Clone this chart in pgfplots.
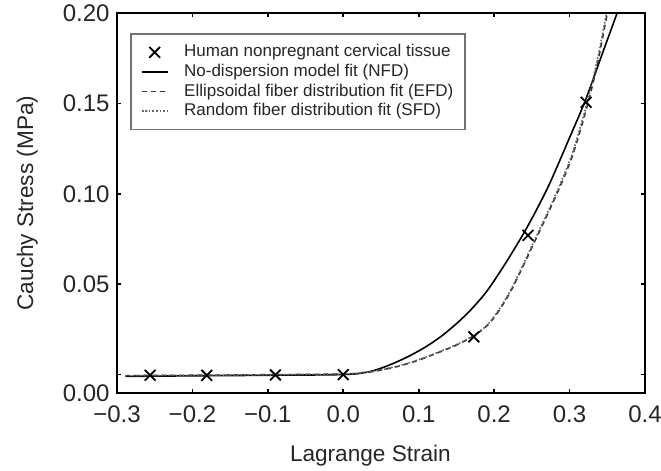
\documentclass[border=0pt]{standalone}
\usepackage{fontspec}
\setmainfont{Liberation Sans}
\usepackage{pgfplots}
\pgfplotsset{compat=1.18}
\usetikzlibrary{calc}

\pgfplotsset{
  shortlegend/.style={
    legend image code/.code={
      \draw[mark repeat=2,mark phase=2,##1] plot coordinates {(0cm,0cm) (0.23cm,0cm) (0.46cm,0cm)};
    }
  }
}

\begin{document}
\begin{tikzpicture}
\begin{axis}[
  name=ax,
  scale only axis,
  width=264pt, height=190pt,
  xmin=-0.3, xmax=0.4,
  ymin=-0.0102, ymax=0.2,
  xtick={-0.3,-0.2,-0.1,0,0.1,0.2,0.3,0.4},
  xticklabels={−0.3,−0.2,−0.1,0.0,0.1,0.2,0.3,0.4},
  ytick={0,0.05,0.1,0.15,0.2},
  yticklabels={,0.05,0.10,0.15,0.20},
  extra y ticks={-0.0102},
  extra y tick labels={0.00},
  extra y tick style={major tick length=0pt},
  tick align=inside,
  major tick length=2.2pt,
  axis line style={line width=1pt},
  tick style={line width=0.8pt, black},
  ticklabel style={font=\fontsize{12}{14}\selectfont, text=black!85},
  xticklabel style={inner sep=1.5pt, yshift=-4.5pt},
  yticklabel style={inner sep=1.5pt, xshift=-2pt},
  label style={font=\fontsize{11.3}{13}\selectfont, text=black!85},
  xlabel={Lagrange Strain},
  ylabel={Cauchy Stress (MPa)},
  xlabel style={at={(axis description cs:0.48,-0.165)}, anchor=center},
  ylabel style={at={(axis description cs:-0.17,0.5)}, anchor=center},
  legend style={
    at={(axis description cs:0.0246,0.947)}, anchor=north west,
    draw=black!55, line width=0.8pt,
    font=\fontsize{8.5}{10}\selectfont, text=black!85,
    inner xsep=5pt, inner ysep=4.3pt,
    column sep=7pt,
    nodes={inner sep=0.8pt, text height=6.4pt, text depth=1.8pt},
  },
  legend cell align=left,
  shortlegend,
]

% measured points
\addplot[only marks, mark=x, mark size=3.8pt, line width=0.9pt, black, shortlegend]
  coordinates {
  (-0.256,-0.0004) (-0.181,-0.0004) (-0.090,-0.0002) (0.000,0.0000)
  (0.173,0.0209) (0.245,0.0770) (0.322,0.1506)
};
\addlegendentry{Human nonpregnant cervical tissue\hspace{4pt}}

% NFD
\addplot[black, line width=0.8pt, no markers, smooth, tension=0.5] coordinates {
  (-0.289,-0.0010) (-0.2,-0.0007) (-0.1,-0.0004) (0,0) (0.03,0.0012)
  (0.05,0.0035) (0.071,0.0070) (0.09,0.0108) (0.11,0.0155) (0.13,0.0212)
  (0.151,0.0285) (0.17,0.0362) (0.191,0.0465) (0.215,0.0615) (0.239,0.0780)
  (0.256,0.0910) (0.274,0.1060) (0.30,0.1310) (0.321,0.1517) (0.343,0.1770)
  (0.363,0.2000) (0.37,0.2090)
};
\addlegendentry{No-dispersion model fit (NFD)\hspace{4pt}}

% EFD
\addplot[black!80, line width=0.8pt, dash pattern=on 2.5pt off 2pt, no markers, smooth, tension=0.5] coordinates {
  (-0.289,-0.0006) (-0.2,-0.0004) (-0.1,-0.0001) (0,0.0003) (0.03,0.0012)
  (0.05,0.0025) (0.075,0.0048) (0.1,0.0080) (0.125,0.0120) (0.15,0.0163)
  (0.172,0.0212) (0.19,0.0268) (0.205,0.0345) (0.225,0.0485) (0.2566,0.0761)
  (0.275,0.0925) (0.29,0.1065) (0.305,0.1225) (0.323,0.1480) (0.337,0.1720)
  (0.35,0.2000) (0.355,0.2110)
};
\addlegendentry{Ellipsoidal fiber distribution fit (EFD)\hspace{4pt}}

% SFD
\addplot[black!60, line width=0.8pt, densely dotted, no markers, smooth, tension=0.5] coordinates {
  (-0.289,-0.0006) (-0.2,-0.0004) (-0.1,-0.0001) (0,0.0003) (0.03,0.0013)
  (0.05,0.0026) (0.075,0.0050) (0.1,0.0082) (0.125,0.0122) (0.15,0.0166)
  (0.172,0.0214) (0.19,0.0271) (0.205,0.0350) (0.225,0.0492) (0.2566,0.0770)
  (0.275,0.0935) (0.29,0.1078) (0.305,0.1240) (0.323,0.1500) (0.337,0.1745)
  (0.349,0.2000) (0.354,0.2110)
};
\addlegendentry{Random fiber distribution fit (SFD)\hspace{4pt}}

\end{axis}
\pgfresetboundingbox
\path ($(ax.south west)+(-58.5pt,-39pt)$) rectangle ($(ax.south west)+(272pt,196.5pt)$);
\end{tikzpicture}
\end{document}
